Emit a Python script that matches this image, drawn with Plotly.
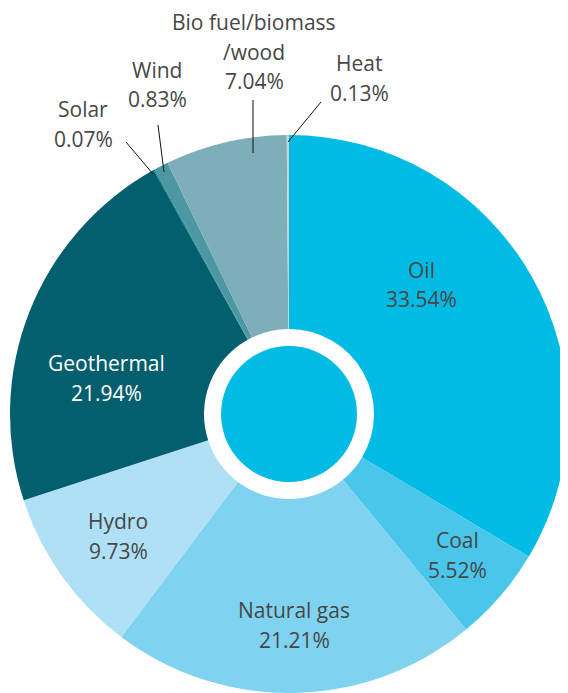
import plotly.graph_objects as go

# ---- data ----
categories = ["Oil", "Coal", "Natural gas", "Hydro", "Geothermal",
              "Solar", "Wind", "Bio fuel/biomass /wood", "Heat"]
shares = [33.54, 5.52, 21.21, 9.73, 21.94, 0.07, 0.83, 7.04, 0.13]
label_lines = [["Oil"], ["Coal"], ["Natural gas"], ["Hydro"], ["Geothermal"],
               ["Solar"], ["Wind"], ["Bio fuel/biomass", "/wood"], ["Heat"]]

# ---- style / layout ----
OFF = 8                     # page body margin
W, H = 560, 685
colors = ["#00BBE4", "#49C6EA", "#7FD3F0", "#B0E0F5", "#035E6D",
          "#00808F", "#4B97A2", "#7EAEBA", "#C3D5DB"]
text_colors = ["#474747", "#474747", "#474747", "#474747", "#FFFFFF",
               "#474747", "#474747", "#474747", "#474747"]
# label anchor (x, y of first line) in page pixels
label_pos = [(421, 270), (457, 540), (294, 610), (118, 521), (106, 363),
             (83, 109), (157, 70), (254, 22), (359, 63)]
line_gap = 29.5
leaders = [((321, 102), (288, 142)), ((253, 100), (253, 153)),
           ((158, 125), (164, 172)), ((126, 142), (153, 174))]

cx, cy, R = 289, 414, 279
r_white, r_inner = 85, 68


def px(x):
    return (x - OFF) / W


def py(y):
    return 1 - (y - OFF) / H


fig = go.Figure()
fig.add_trace(go.Pie(
    labels=categories, values=shares, sort=False, direction="clockwise",
    rotation=0, hole=r_white / R,
    marker=dict(colors=colors, line=dict(width=0)),
    textinfo="none", hoverinfo="label+percent", showlegend=False,
    domain=dict(x=[max(0, px(cx - R)), min(1, px(cx + R))],
                y=[max(0, py(cy + R)), min(1, py(cy - R))]),
))
fig.add_trace(go.Pie(
    labels=["center"], values=[1], sort=False,
    marker=dict(colors=["#00BBE4"], line=dict(width=0)),
    textinfo="none", hoverinfo="skip", showlegend=False,
    domain=dict(x=[px(cx - r_inner), px(cx + r_inner)],
                y=[py(cy + r_inner), py(cy - r_inner)]),
))

annotations = []
font_family = "Open Sans, sans-serif"
for lines, val, (lx, ly), tc in zip(label_lines, shares, label_pos, text_colors):
    texts = lines + [f"{val:.2f}%"]
    for i, t in enumerate(texts):
        annotations.append(dict(
            x=px(lx), y=py(ly + i * line_gap), xref="paper", yref="paper",
            text=t, showarrow=False, xanchor="center", yanchor="middle",
            font=dict(family=font_family, size=21, color=tc),
        ))

shapes = []
for (x0, y0), (x1, y1) in leaders:
    shapes.append(dict(type="line", xref="paper", yref="paper",
                       x0=px(x0), y0=py(y0), x1=px(x1), y1=py(y1),
                       line=dict(color="#111111", width=1)))

fig.update_layout(
    width=W, height=H, margin=dict(l=0, r=0, t=0, b=0),
    paper_bgcolor="white", plot_bgcolor="white",
    annotations=annotations, shapes=shapes,
)

fig.write_html("out.html")
